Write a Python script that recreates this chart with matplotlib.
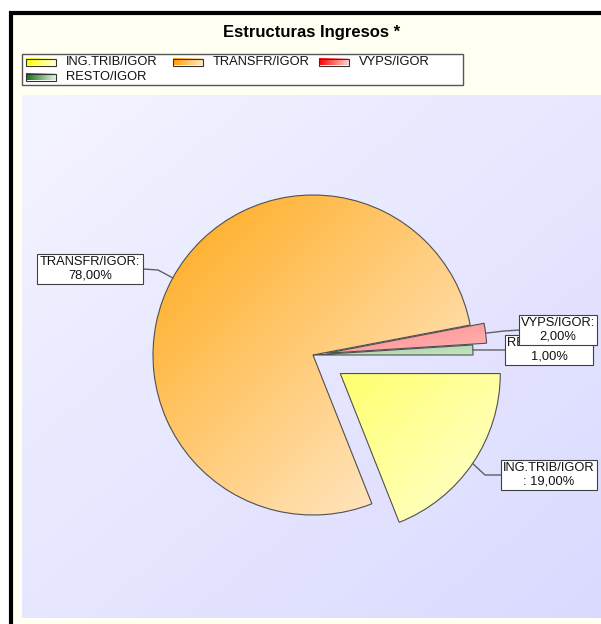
import numpy as np
import matplotlib.pyplot as plt
from matplotlib.colors import to_rgb
from matplotlib.patches import Rectangle

plt.rcParams['font.family'] = ['Liberation Sans', 'DejaVu Sans']

W, H = 601, 624

labels = ['ING.TRIB/IGOR', 'TRANSFR/IGOR', 'VYPS/IGOR', 'RESTO/IGOR']
shares = [19.0, 78.0, 2.0, 1.0]
box_text = ['ING.TRIB/IGOR\n: 19,00%', 'TRANSFR/IGOR:\n78,00%',
            'VYPS/IGOR:\n2,00%', 'RESTO/IGOR:\n1,00%']
explode = [33, 0, 14, 0]

pie_dark = ['#FFFF6E', '#FFA918', '#FF8A8A', '#9CCF9C']
pie_light = ['#FFFFD4', '#FFF0DE', '#FFB4B4', '#C6E4C6']
legend_dark = ['#FFFF00', '#FFA000', '#FF0000', '#137213']
legend_light = ['#FFFFD8', '#FFE8C4', '#FFD4D4', '#E4F2E4']

# label boxes (pixel centres) and elbow points of the connector lines
box_pos = [(549, 475), (90, 269), (558, 330), (549, 350)]
elbow = [(485, 475), (158, 270), (504, 331), None]
box_left = [501, 143, 520, 505]


def py(y):
    # pixel row (from top) -> data y (from bottom)
    return H - y


def diag_grad(c0, c1, n=200):
    t = (np.linspace(0, 1, n)[None, :] + np.linspace(0, 1, n)[:, None]) / 2
    c0, c1 = np.array(to_rgb(c0)), np.array(to_rgb(c1))
    return c0 + (c1 - c0) * t[..., None]


def horiz_grad(c0, c1, n=100):
    t = np.linspace(0, 1, n)[None, :]
    c0, c1 = np.array(to_rgb(c0)), np.array(to_rgb(c1))
    return c0 + (c1 - c0) * t[..., None]


fig = plt.figure(figsize=(W / 100, H / 100), dpi=100)
ax = fig.add_axes([0, 0, 1, 1])

# outer frame + cream background
ax.add_patch(Rectangle((10.5, -30), W + 40, py(12.5) + 30, fc='#FFFFF2',
                       ec='black', lw=3, zorder=0))

# plot area with lavender gradient
ax.imshow(diag_grad('#F4F4FF', '#D9D9FF'), extent=(22, 640, py(618), py(95)),
          origin='upper', aspect='auto', zorder=1)

# title
ax.text(312, py(33), 'Estructuras Ingresos *', ha='center', va='center',
        fontsize=12, fontweight='bold', zorder=5)

# legend
ax.add_patch(Rectangle((22, py(85)), 441, 31, fc='white', ec='#555555',
                       lw=1, zorder=4))
for i, lab in enumerate(labels):
    col, row = i % 3, i // 3
    x = 26 + col * 146.5
    y = py(62 + row * 15)
    ax.imshow(horiz_grad(legend_dark[i], legend_light[i]),
              extent=(x, x + 30, y - 3.5, y + 3.5), origin='upper',
              aspect='auto', zorder=5)
    ax.add_patch(Rectangle((x, y - 3.5), 30, 7, fc='none', ec='#333333',
                           lw=0.8, zorder=6))
    ax.text(x + 40, y, lab, ha='left', va='center', fontsize=9.3,
            color='#111111', zorder=6)

# pie
cx, cy, r = 313, py(355), 160
wedges, _ = ax.pie(shares, explode=explode, startangle=0, counterclock=False,
                   center=(cx, cy), radius=r,
                   wedgeprops=dict(facecolor='none', edgecolor='#505050',
                                   linewidth=0.8))
for i, w in enumerate(wedges):
    w.set_zorder(3)
    bb = w.get_path().get_extents()
    im = ax.imshow(diag_grad(pie_dark[i], pie_light[i]),
                   extent=(bb.x0, bb.x1, bb.y0, bb.y1), origin='upper',
                   aspect='auto', zorder=2)
    im.set_clip_path(w)

    # connector from the arc middle to the label box
    tm = np.deg2rad((w.theta1 + w.theta2) / 2)
    wx, wy = w.center
    sx, sy = wx + r * np.cos(tm), wy + r * np.sin(tm)
    bx, by = box_pos[i]
    pts = [(sx, sy)]
    if elbow[i] is not None:
        pts.append((elbow[i][0], py(elbow[i][1])))
    pts.append((box_left[i], py(by)))
    xs, ys = zip(*pts)
    ax.plot(xs, ys, color='#606060', lw=1, zorder=4)

order = [1, 0, 3, 2]
for z, i in enumerate(order):
    bx, by = box_pos[i]
    ax.text(bx, py(by), box_text[i], ha='center', va='center',
            multialignment='center', fontsize=9.3, color='#111111',
            zorder=7 + z,
            bbox=dict(boxstyle='square,pad=0.18', fc='white', ec='#404040',
                      lw=0.8))

ax.set_xlim(0, W)
ax.set_ylim(0, H)
ax.set_aspect('auto')
ax.axis('off')

plt.savefig('out.png', dpi=100)
